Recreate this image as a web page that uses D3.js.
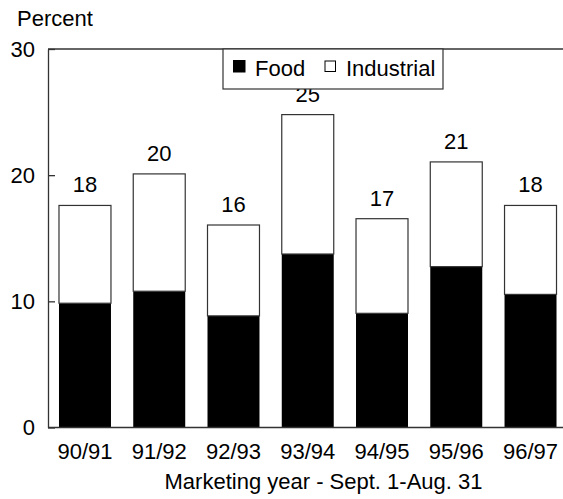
<!DOCTYPE html>
<html>
<head>
<meta charset="utf-8">
<script src="https://cdn.jsdelivr.net/npm/d3@7/dist/d3.min.js"></script>
<style>
  html, body { margin: 0; padding: 0; background: #fff; }
  svg { display: block; }
  text { font-family: "Liberation Sans", Arial, Helvetica, sans-serif; fill: #000; }
</style>
</head>
<body>
<svg id="chart" width="563" height="499"></svg>
<script>
const categories = ["90/91", "91/92", "92/93", "93/94", "94/95", "95/96", "96/97"];
const food = [9.85, 10.8, 8.85, 13.75, 9.05, 12.75, 10.55];
const industrial = [7.75, 9.3, 7.2, 11.05, 7.5, 8.3, 7.05];
const totalLabels = ["18", "20", "16", "25", "17", "21", "18"];
const yTicks = [0, 10, 20, 30];
const seriesNames = ["Food", "Industrial"];

(function () {
const svg = d3.select("#chart");
const plotLeft = 48, plotTop = 49, plotBottom = 427.5;
const fs = "22px";

const x = d3.scaleBand()
  .domain(categories)
  .range([plotLeft, 567.5])
  .paddingInner(0.3)
  .paddingOuter(0.148);

const y = d3.scaleLinear().domain([0, 30]).range([plotBottom, plotTop]);

const rows = categories.map((c, i) => ({ cat: c, food: food[i], industrial: industrial[i], label: totalLabels[i] }));
const stack = d3.stack().keys(["food", "industrial"])(rows);
const fills = { food: "#000", industrial: "#fff" };

// bars
stack.forEach(layer => {
  svg.append("g").selectAll("rect")
    .data(layer)
    .join("rect")
    .attr("x", d => x(d.data.cat))
    .attr("width", x.bandwidth())
    .attr("y", d => y(d[1]))
    .attr("height", d => y(d[0]) - y(d[1]))
    .attr("fill", fills[layer.key])
    .attr("stroke", layer.key === "industrial" ? "#333" : "none")
    .attr("stroke-width", 1.2);
});

// value labels
svg.append("g").selectAll("text")
  .data(rows)
  .join("text")
  .attr("x", d => x(d.cat) + x.bandwidth() / 2)
  .attr("y", d => y(d.food + d.industrial) - 13)
  .attr("text-anchor", "middle")
  .style("font-size", fs)
  .text(d => d.label);

// frame: top line and baseline
svg.append("line").attr("x1", plotLeft).attr("x2", 563).attr("y1", y(30)).attr("y2", y(30))
  .attr("stroke", "#333").attr("stroke-width", 1.3);
svg.append("line").attr("x1", plotLeft).attr("x2", 563).attr("y1", y(0)).attr("y2", y(0))
  .attr("stroke", "#333").attr("stroke-width", 1.3);

// y axis
const yAxis = d3.axisLeft(y).tickValues(yTicks).tickFormat(d3.format("d"))
  .tickSizeInner(-7).tickSizeOuter(0).tickPadding(13);
const gy = svg.append("g").attr("transform", `translate(${plotLeft},0)`).call(yAxis);
gy.select(".domain").attr("stroke", "#333").attr("stroke-width", 1.3);
gy.selectAll(".tick line").attr("stroke", "#333").attr("stroke-width", 1.3);
gy.selectAll(".tick text").style("font-size", fs).attr("fill", "#000")
  .style("font-family", "'Liberation Sans', Arial, sans-serif");

// x axis
const xAxis = d3.axisBottom(x).tickSize(0).tickPadding(16);
const gx = svg.append("g").attr("transform", `translate(0,${plotBottom})`).call(xAxis);
gx.select(".domain").remove();
gx.selectAll(".tick text").style("font-size", fs).attr("fill", "#000")
  .style("font-family", "'Liberation Sans', Arial, sans-serif");

// axis titles
svg.append("text").attr("x", 17).attr("y", 26).style("font-size", fs).text("Percent");
svg.append("text").attr("x", 323.5).attr("y", 489).attr("text-anchor", "middle")
  .style("font-size", fs).text("Marketing year - Sept. 1-Aug. 31");

// legend
const lg = svg.append("g");
lg.append("rect").attr("x", 223).attr("y", 49).attr("width", 220).attr("height", 40)
  .attr("fill", "#fff").attr("stroke", "#333").attr("stroke-width", 1.2);
const legendItems = [
  { name: seriesNames[0], key: "food", sx: 233, sy: 60, s: 12.5, tx: 255 },
  { name: seriesNames[1], key: "industrial", sx: 325, sy: 61, s: 10.5, tx: 346 }
];
legendItems.forEach(it => {
  lg.append("rect").attr("x", it.sx).attr("y", it.sy).attr("width", it.s).attr("height", it.s)
    .attr("fill", fills[it.key]).attr("stroke", "#000").attr("stroke-width", it.key === "food" ? 0 : 1);
  lg.append("text").attr("x", it.tx).attr("y", 76).style("font-size", fs).text(it.name);
});
})();
</script>
</body>
</html>
